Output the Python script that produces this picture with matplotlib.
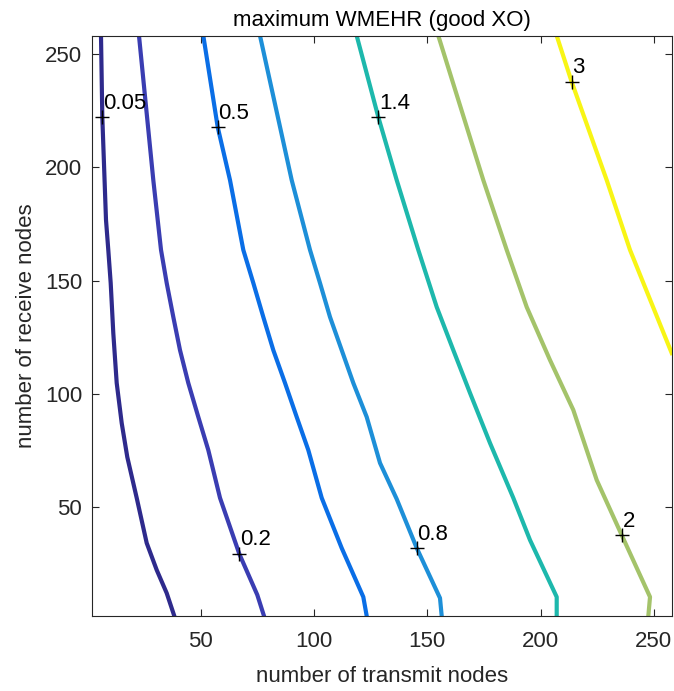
# contour lines of maximum WMEHR
import numpy as np
import matplotlib.pyplot as plt

plt.rcParams['font.family'] = ['Liberation Sans', 'DejaVu Sans']

levels = [0.05, 0.2, 0.5, 0.8, 1.4, 2, 3]
colors = ['#2e2a8c', '#3a3db2', '#0a6ee6', '#1d8fd8', '#1db8ac', '#a4c36a', '#f8f515']

# contour traces (transmit nodes, receive nodes)
x_005 = [5.97, 6.55, 8.18, 9.19, 10.25, 11.40, 12.90, 15.11, 17.58, 21.73, 26.14, 30.56, 34.97, 38.33]
y_005 = [258, 222.1, 176.7, 163.5, 148.9, 126.8, 104.8, 87.1, 72.1, 54.1, 34.2, 22.3, 12.1, 2]

x_02 = [22.74, 29.06, 32.46, 34.97, 37.89, 40.84, 44.5, 48.92, 53.33, 58.5, 67.02, 74.96, 77.92]
y_02 = [258, 194.3, 163.5, 148.9, 133.9, 119.3, 104.8, 89.8, 75.2, 54.1, 29.4, 11.3, 2]

x_05 = [51.13, 57.48, 62.91, 68.78, 73.2, 77.61, 82.02, 87.19, 92.35, 97.47, 103.39, 112.2, 121.75, 123.25]
y_05 = [258, 217.7, 194.3, 163.5, 148.9, 133.9, 119.3, 104.8, 89.8, 75.2, 54.1, 32.0, 10.4, 2]

x_08 = [76.15, 90.14, 98.22, 102.63, 107.05, 112.21, 117.33, 123.25, 129.12, 136.49, 145.32, 155.6, 156.35]
y_08 = [258, 194.3, 163.5, 148.9, 133.9, 119.3, 104.8, 89.8, 69.5, 53.6, 32.0, 9.9, 2]

x_14 = [118.83, 128.37, 136.49, 146.02, 154.15, 161.47, 168.84, 177.67, 187.95, 195.33, 207.11, 207.11]
y_14 = [258, 222.1, 194.3, 163.5, 138.3, 119.3, 100.4, 78.3, 54.1, 35.5, 10.4, 2]

x_2 = [154.85, 174.71, 185.04, 193.87, 204.15, 214.43, 224.76, 235.8, 248.3, 247.55]
y_2 = [258, 194.3, 163.5, 138.3, 114.9, 92.9, 62.0, 37.7, 10.4, 2]

x_3 = [207.11, 213.73, 229.18, 239.46, 257.86]
y_3 = [258, 237.6, 194.3, 163.5, 118.0]

xs = [x_005, x_02, x_05, x_08, x_14, x_2, x_3]
ys = [y_005, y_02, y_05, y_08, y_14, y_2, y_3]

# label positions (marker '+')
label_x = [6.55, 67.0, 57.5, 145.3, 128.4, 235.8, 213.7]
label_y = [222.1, 29.4, 217.7, 32.0, 222.1, 37.7, 237.6]
label_txt = ['0.05', '0.2', '0.5', '0.8', '1.4', '2', '3']

fig = plt.figure(figsize=(6.74, 6.91), dpi=100)
ax = fig.add_axes([92/674, 75/691, 580/674, 580.3/691])

for xx, yy, c in zip(xs, ys, colors):
    ax.plot(xx, yy, color=c, lw=3, solid_joinstyle='round', zorder=2)

for lx, ly, t in zip(label_x, label_y, label_txt):
    ax.plot(lx, ly, '+', color='k', ms=10, mew=1.0, zorder=3)
    ax.annotate(t, (lx, ly), xytext=(0.5, 2.5), textcoords='offset points',
                fontsize=16, color='k', ha='left', va='bottom', zorder=4)

ax.set_xlim(2, 258)
ax.set_ylim(2, 258)
ax.set_xticks([50, 100, 150, 200, 250])
ax.set_yticks([50, 100, 150, 200, 250])
ax.tick_params(direction='in', top=True, right=True, length=5, width=0.8,
               labelsize=16, colors='#262626', pad=7)
ax.tick_params(axis='x', pad=11)
for s in ax.spines.values():
    s.set_color('#262626')
    s.set_linewidth(0.8)

ax.set_title('maximum WMEHR (good XO)', fontsize=16, color='k', pad=7)
ax.set_xlabel('number of transmit nodes', fontsize=16, color='#262626', labelpad=10)
ax.set_ylabel('number of receive nodes', fontsize=16, color='#262626', labelpad=6)

fig.savefig('out.png', dpi=100)
